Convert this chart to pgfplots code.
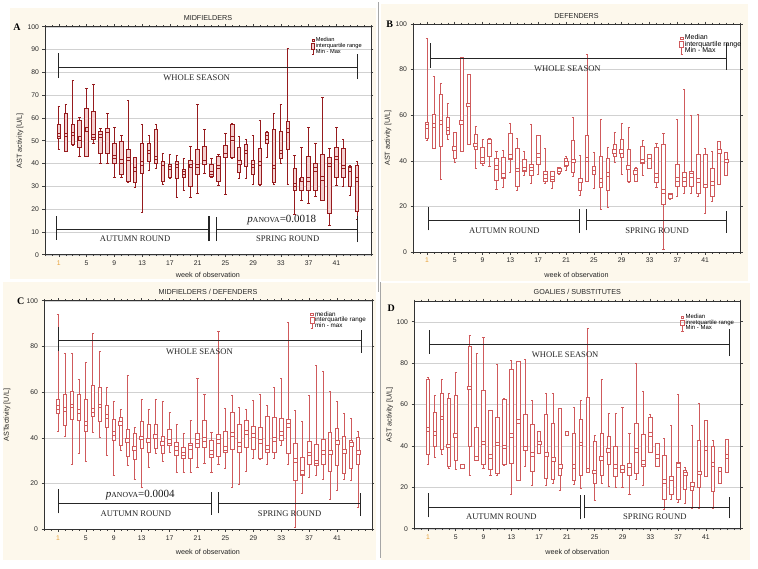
\documentclass[border=0pt]{standalone}
\usepackage{pgfplots}
\pgfplotsset{compat=1.18}
\usepackage{pgfplotstable}
\usepgfplotslibrary{statistics}
\usepackage{fontspec}
\setmainfont{Liberation Sans}
\newfontfamily\serif{Liberation Serif}
\definecolor{darkA}{HTML}{961B1E}
\definecolor{pinkA}{HTML}{F4D0D0}
\definecolor{redB}{HTML}{CF5A5C}
\definecolor{cream}{HTML}{FDF8EC}
\definecolor{tickorange}{HTML}{E8A23C}
\definecolor{brk}{HTML}{262626}

\pgfplotstableread{
w lo q1 md q3 hi
1 46 51 52.5 57 65
2 45.5 45.5 52.5 62 66
3 48 48.5 53 57 76.5
4 43 47 51 59 60
5 43 43 55 64 73
6 49 50.5 52 63 74.5
7 40 44.5 52 54 55.5
8 40 44.5 54.5 55 62
9 34 40 43 49 56
10 34 35 41 49.5 52.5
11 31.5 32 42 46 67.5
12 29.5 31.5 37.5 42.5 42.5
13 18.5 35.5 40 49 57
14 37 41 45 49 52.5
15 38 40 42.5 55 57
16 31 32 40 40.5 44.5
17 33.5 34 38 39.5 44
18 25 33.5 39 41 43.5
19 28 34 36 37.5 42
20 25 30 39 41.5 47.5
21 27 35 39 46 66
22 35.5 40 40.5 47.5 55
23 34 34.5 36 39.5 42
24 30.5 32 38.5 43 44
25 26.5 43 43.5 48 53
26 42 42.5 51 57 57.5
27 33.5 36 40.5 47 52
28 33.5 38.5 45 48.5 50.5
29 31 35 39 41.5 52.5
30 30.5 31 40 46.5 59
31 42.5 49 51.5 53.5 54
32 31 31.5 38.5 55 62
33 40 42 45 54 66
34 31 46 54.5 58.5 90.5
35 17.5 28 30.5 38 43.5
36 24 28 33 33.5 47
37 22.5 28 33 43 56
38 25.5 28 37.5 40 49
39 24 24 33.5 44 69
40 13 18 39.5 42.5 46.5
41 30.5 34 42.5 47 56
42 30 34 38.5 46.5 50.5
43 26 30 37.5 38.5 39
44 15.5 19 33 39 41
}\dataA

\pgfplotstableread{
w lo q1 md q3 hi
1 49 50 55 57 93.5
2 45.5 45.5 55.5 60.5 77
3 32 46.5 57 69 74
4 49.5 51.5 54 59 65
5 39.5 41 45.5 52.5 52.5
6 44 44 57 85.5 85.5
7 47 47 64.5 78 78
8 36.5 45 47 51.5 55
9 38 39 40.5 46 49.5
10 37.5 42 48.5 49.5 50
11 27.5 31.5 37 41 44
12 28.5 32.5 33.5 41.5 44.5
13 35 40.5 42 52 56.5
14 27 29 36 45.5 50
15 33.5 35.5 36.5 40.5 44
16 30 33.5 36.5 38.5 56
17 34 38.5 42.5 51 51
18 30 31 33 35.5 45.5
19 28 31 32.5 35.5 35.5
20 34 34.5 36 37 37
21 36 37.5 39 41 42
22 33 35 40 49 59
23 25 27 31.5 32 42.5
24 31 31 40.5 51 86.5
25 28 34 35 37.5 43.5
26 18.5 28.5 31.5 42 58
27 19.5 27 34 41 46
28 39.5 42 44 47 52.5
29 34 41.5 44 49.5 56.5
30 30.5 31 37 45 54.5
31 31 31 35 36.5 37
32 33.5 39 40 46.5 49
33 36.5 36.5 42 42.5 42.5
34 28.5 30.5 33.5 46 47.5
35 1 21 26.5 47 52
36 23 23.5 24.5 25.5 25.5
37 24.5 29 32 38.5 58
38 25.5 29 32 35 71.5
39 25.5 29 33.5 35.5 60
40 24.5 25.5 31.5 43 60.5
41 17 28.5 29 43 45.5
42 22 24.5 30 36.5 44
43 29.5 29.5 44 48.5 48.5
44 33.5 33.5 40 43.5 43.5
}\dataB

\pgfplotstableread{
w lo q1 md q3 hi
1 43 50.5 53.5 57 94
2 40.5 45.5 52.5 59 77
3 28.5 48 54 60.5 77
4 33 47.5 51.5 59 65.5
5 29.5 43 46.5 57 73
6 42.5 49.5 52 63 85.5
7 40 47 54 62 78
8 32.5 44.5 49.5 54 62
9 23.5 39 42 48 56
10 34.5 36.5 46.5 49 52.5
11 28 32 39 43.5 67.5
12 22 30.5 35.5 42 44.5
13 18.5 35.5 40 47 57
14 27 33.5 39 46 52.5
15 33 35.5 40.5 46 57
16 29.5 33 37.5 40.5 56
17 33.5 36.5 38.5 43.5 51
18 25 32.5 35.5 38 46
19 25 31 33 36 42
20 25 31 36 37.5 47.5
21 27 36 38.5 42 66
22 29 36 39.5 47.5 59
23 25 31.5 33.5 39 42.5
24 28.5 32 38.5 41.5 86.5
25 26.5 33.5 35.5 43 53
26 18.5 35 41.5 51 58.5
27 19.5 33.5 37 46 53.5
28 25.5 36 42.5 47.5 52.5
29 31 35 41 45 56.5
30 30.5 31 38.5 44.5 59
31 28.5 33.5 36 49.5 54
32 31 33.5 39.5 49 62
33 36.5 39 42 48.5 66
34 28.5 33 45.5 48 90.5
35 1 21.5 30 37.5 52
36 15.5 23.5 25 31.5 47
37 22.5 28.5 33 38.5 58.5
38 23.5 28 29.5 37 71.5
39 22 28.5 33.5 39.5 69
40 13 25.5 33.5 42.5 60.5
41 17 28 38 44 56
42 22 24.5 34 40.5 50.5
43 21.5 26.5 37 39 48.5
44 9.5 28.5 33.5 40 43
}\dataC

\pgfplotstableread{
w lo q1 md q3 hi
1 31 36 48 72 73
2 34.5 40 46 56 64.5
3 36 38.5 53.5 65.5 72
4 29 30 40 63 65.5
5 28.5 33 45 64.5 75.5
6 30 30 30 30 30
7 26 40 68 88 93.5
8 33 33.5 34 49 84.5
9 29 31 41.5 67 92.5
10 26 28.5 35 57 57
11 26 26.5 41 54 79.5
12 30.5 31 39.5 62.5 63
13 16.5 31.5 45 77 81.5
14 23.5 23.5 52 81 81
15 30 38 39 55 82
16 21 27.5 36 50.5 62
17 36.5 36.5 41.5 47 47
18 21 24.5 36 55 65.5
19 22 24 33.5 51 65.5
20 18.5 26 30 58 58
21 46 46 46 46 46
22 21.5 23.5 30 46 58.5
23 19.5 26 41 53 62
24 27.5 27.5 28 63.5 97
25 13.5 22 27.5 42 45
26 22 26 34 46 72
27 20.5 31 38 44.5 55.5
28 20 25.5 30 40 55.5
29 20 27 29.5 30.5 58.5
30 16.5 26 30.5 31 46
31 24 26.5 38 51 80
32 21 30 32 45.5 66.5
33 37 37 45.5 54 55
34 30 30 35 41 41
35 9.5 14 23 35.5 43.5
36 14 16.5 24.5 25 50
37 12.5 14 30.5 32 65
38 12 19 26.5 28 29.5
39 10 18.5 21.5 22.5 50
40 10 20 27 42.5 60.5
41 25.5 25.5 39 52.5 52.5
42 10 18 31 40 42.5
43 22 22 28.5 29 29
44 27 27 35 43 43
}\dataD

% one box plot from one row of a table: #1 table, #2 row, #3 style
\newcommand\boxrow[3]{%
  \pgfplotstablegetelem{#2}{lo}\of#1\edef\vlo{\pgfplotsretval}%
  \pgfplotstablegetelem{#2}{q1}\of#1\edef\vqa{\pgfplotsretval}%
  \pgfplotstablegetelem{#2}{md}\of#1\edef\vmd{\pgfplotsretval}%
  \pgfplotstablegetelem{#2}{q3}\of#1\edef\vqb{\pgfplotsretval}%
  \pgfplotstablegetelem{#2}{hi}\of#1\edef\vhi{\pgfplotsretval}%
  \edef\tmpplot{\noexpand\addplot[#3, boxplot prepared={draw position=#2+1,
      lower whisker=\vlo, lower quartile=\vqa, median=\vmd,
      upper quartile=\vqb, upper whisker=\vhi}] coordinates {};}%
  \tmpplot
}

\tikzset{
  brkline/.style={draw=brk, line width=1pt},
  ann/.style={font=\serif\fontsize{8.6}{9}\selectfont, text=black!85},
}

\pgfplotsset{
  panel/.style={
    scale only axis, xmin=-1, xmax=46, ymin=0,
    axis background/.style={fill=white},
    axis line style={draw=black!80, line width=0.6pt},
    xtick={1,5,...,41},
    xticklabels={\textcolor{tickorange}{1},5,9,13,17,21,25,29,33,37,41},
    minor xtick={-1,0,...,46},
    tick align=outside,
    major tick length=2.5pt, minor tick length=1.5pt,
    tick style={black!75, line width=0.5pt},
    ymajorgrids, grid style={black!18, line width=0.4pt},
    ticklabel style={font=\fontsize{6.8}{8}\selectfont, text=black!85},
    /pgf/number format/assume math mode=true,
    label style={font=\fontsize{7.2}{8}\selectfont, text=black!85},
    title style={font=\fontsize{7.2}{8}\selectfont, yshift=-3.5pt, text=black!85},
    legend cell align=left,
    clip=false,
  },
  boxA/.style={forget plot, color=darkA, line width=0.9pt,
    boxplot/draw direction=y, boxplot/box extend=0.5, boxplot/whisker extend=0.35,
    boxplot/every box/.style={fill=pinkA},
    boxplot/draw/median/.code={\draw[darkA, fill=pinkA, line width=0.8pt]
      (boxplot box cs:\pgfplotsboxplotvalue{median},0.5) ++(-1.7pt,-1.7pt) rectangle ++(3.4pt,3.4pt);}},
  boxB/.style={forget plot, color=redB, line width=0.75pt,
    boxplot/draw direction=y, boxplot/box extend=0.5, boxplot/whisker extend=0.3,
    boxplot/every box/.style={fill=white},
    boxplot/draw/median/.code={\draw[redB, fill=white, line width=0.75pt]
      (boxplot box cs:\pgfplotsboxplotvalue{median},0.5) ++(-1.9pt,-1.9pt) rectangle ++(3.8pt,3.8pt);}},
}

\begin{document}
\begin{tikzpicture}
\useasboundingbox (0,0) rectangle (758pt,-568pt);
\fill[white] (0,0) rectangle (758pt,-568pt);
\fill[cream] (10pt,-8pt) rectangle (376pt,-279pt);
\fill[cream] (381pt,-4pt) rectangle (748pt,-281pt);
\fill[cream] (3pt,-282pt) rectangle (376pt,-560pt);
\fill[cream] (381pt,-283pt) rectangle (750pt,-560pt);
\draw[black!35, line width=0.6pt] (378pt,-2pt) -- (378pt,-292pt);
\draw[black!35, line width=0.6pt] (380pt,-282pt) -- (380pt,-558pt);

% ---------------- A ----------------
\begin{axis}[panel, at={(45pt,-254.7pt)}, anchor=south west, width=326pt, height=228pt,
  ymax=100, ytick={0,10,...,100}, title={MIDFIELDERS},
  xlabel={week of observation}, ylabel={AST activity [U/L]},
  xlabel style={at={(axis description cs:0.5,-0.089)}, anchor=center},
  ylabel style={at={(axis description cs:-0.077,0.5)}, anchor=center},
  legend style={at={(0.807,0.965)}, anchor=north west, draw=none, fill=none,
    font=\fontsize{5.7}{6}\selectfont, row sep=-1.5pt, nodes={inner sep=0.8pt}}]
\addlegendimage{legend image code/.code={\draw[darkA, fill=pinkA, line width=0.7pt] (1.3pt,-1.2pt) rectangle (3.7pt,1.2pt);}}
\addlegendentry{Median}
\addlegendimage{legend image code/.code={\draw[darkA, fill=pinkA, line width=0.7pt] (1pt,-2.8pt) rectangle (4pt,2.8pt);}}
\addlegendentry{interquartile range}
\addlegendimage{legend image code/.code={\draw[darkA, line width=0.7pt] (2.5pt,-2.8pt) -- (2.5pt,2.8pt) (1.2pt,-2.8pt) -- (3.8pt,-2.8pt);}}
\addlegendentry{Min - Max}
\pgfplotsinvokeforeach{0,...,43}{\boxrow{\dataA}{#1}{boxA}}
\draw[brkline] (axis cs:0.9,82) -- (axis cs:44.05,82);
\draw[brkline] (axis cs:0.9,77.5) -- (axis cs:0.9,88.5);
\draw[brkline] (axis cs:44.05,77) -- (axis cs:44.05,88);
\draw[brkline] (axis cs:0.71,11) -- (axis cs:22.64,11);
\draw[brkline] (axis cs:0.71,6.5) -- (axis cs:0.71,17);
\draw[brkline, line width=1.6pt] (axis cs:22.64,6) -- (axis cs:22.64,17);
\draw[brkline] (axis cs:23.75,11) -- (axis cs:44.05,11);
\draw[brkline] (axis cs:23.75,6) -- (axis cs:23.75,16.5);
\draw[brkline] (axis cs:44.05,5.5) -- (axis cs:44.05,17);
\node[ann] at (axis cs:20.86,77.7) {WHOLE SEASON};
\node[ann] at (axis cs:12,6.9) {AUTUMN ROUND};
\node[ann] at (axis cs:34,6.9) {SPRING ROUND};
\node[font=\serif\fontsize{11}{12}\selectfont, text=black!90] at (axis cs:33.15,15.1) {\textit{p}{\fontsize{7.7}{8}\selectfont ANOVA}=0.0018};
\end{axis}
\node[font=\serif\bfseries\fontsize{10}{11}\selectfont] at (17pt,-27pt) {A};

% ---------------- B ----------------
\begin{axis}[panel, at={(413pt,-252pt)}, anchor=south west, width=327pt, height=228pt,
  ymax=100, ytick={0,20,...,100}, title={DEFENDERS}, title style={yshift=-1pt},
  xlabel={week of observation}, ylabel={AST activity [U/L]},
  xlabel style={at={(axis description cs:0.5,-0.101)}, anchor=center},
  ylabel style={at={(axis description cs:-0.0765,0.5)}, anchor=center},
  legend style={at={(0.805,0.965)}, anchor=north west, draw=none, fill=none,
    font=\fontsize{7}{7.5}\selectfont, row sep=-1.5pt, nodes={inner sep=0.7pt}}]
\addlegendimage{legend image code/.code={\draw[redB, line width=0.7pt] (1.3pt,-1.3pt) rectangle (3.9pt,1.3pt);}}
\addlegendentry{Median}
\addlegendimage{legend image code/.code={\draw[redB, line width=0.7pt] (0.6pt,-3pt) rectangle (4.6pt,3pt);}}
\addlegendentry{interquartile range}
\addlegendimage{legend image code/.code={\draw[redB, line width=0.7pt] (2.6pt,-2.8pt) -- (2.6pt,2.8pt) (1.4pt,-2.8pt) -- (3.8pt,-2.8pt);}}
\addlegendentry{Min - Max}
\pgfplotsinvokeforeach{0,...,43}{\boxrow{\dataB}{#1}{boxB}}
\draw[brkline] (axis cs:1.48,85) -- (axis cs:44.1,85);
\draw[brkline] (axis cs:1.48,80.9) -- (axis cs:1.48,91.6);
\draw[brkline] (axis cs:44.1,79.9) -- (axis cs:44.1,91.6);
\draw[brkline] (axis cs:1.24,13.9) -- (axis cs:22.96,13.9);
\draw[brkline] (axis cs:1.24,9.5) -- (axis cs:1.24,19.8);
\draw[brkline] (axis cs:22.96,8.5) -- (axis cs:22.96,19);
\draw[brkline] (axis cs:24,13.9) -- (axis cs:44.1,13.9);
\draw[brkline] (axis cs:24,9.5) -- (axis cs:24,19);
\draw[brkline] (axis cs:44.1,8.5) -- (axis cs:44.1,18);
\node[ann] at (axis cs:21.19,80.4) {WHOLE SEASON};
\node[ann] at (axis cs:12.12,9.5) {AUTUMN ROUND};
\node[ann] at (axis cs:34.08,9.5) {SPRING ROUND};
\end{axis}
\node[font=\serif\bfseries\fontsize{10}{11}\selectfont] at (389.7pt,-24pt) {B};

% ---------------- C ----------------
\begin{axis}[panel, at={(44pt,-529.3pt)}, anchor=south west, width=328pt, height=228.6pt,
  ymax=100, ytick={0,20,...,100}, title={MIDFIELDERS / DEFENDERS},
  xlabel={week of observation}, ylabel={ASTactivity [U/L]},
  xlabel style={at={(axis description cs:0.5,-0.098)}, anchor=center},
  ylabel style={at={(axis description cs:-0.113,0.5)}, anchor=center},
  legend style={at={(0.8,0.965)}, anchor=north west, draw=none, fill=none,
    font=\fontsize{6.3}{7}\selectfont, row sep=-1.8pt, nodes={inner sep=0.7pt}}]
\addlegendimage{legend image code/.code={\draw[redB, line width=0.7pt] (1.3pt,-1.2pt) rectangle (3.7pt,1.2pt);}}
\addlegendentry{median}
\addlegendimage{legend image code/.code={\draw[redB, line width=0.7pt] (0.5pt,-2.8pt) rectangle (4.5pt,2.8pt);}}
\addlegendentry{interquartile range}
\addlegendimage{legend image code/.code={\draw[redB, line width=0.7pt] (2.5pt,-2.8pt) -- (2.5pt,2.8pt) (1.3pt,-2.8pt) -- (3.7pt,-2.8pt);}}
\addlegendentry{min - max}
\pgfplotsinvokeforeach{0,...,43}{\boxrow{\dataC}{#1}{boxB}}
\draw[brkline] (axis cs:1.1,82.4) -- (axis cs:44.45,82.4);
\draw[brkline] (axis cs:1.1,78.1) -- (axis cs:1.1,88.6);
\draw[brkline] (axis cs:44.45,77.3) -- (axis cs:44.45,87.2);
\draw[brkline] (axis cs:1.14,11.4) -- (axis cs:22.94,11.4);
\draw[brkline] (axis cs:1.14,7) -- (axis cs:1.14,17.5);
\draw[brkline] (axis cs:22.94,6.3) -- (axis cs:22.94,16.3);
\draw[brkline] (axis cs:24.04,11.4) -- (axis cs:44.36,11.4);
\draw[brkline] (axis cs:24.04,7) -- (axis cs:24.04,16.3);
\draw[brkline] (axis cs:44.36,5.8) -- (axis cs:44.36,15.7);
\node[ann] at (axis cs:21.27,77.7) {WHOLE SEASON};
\node[ann] at (axis cs:12.16,7) {AUTUMN ROUND};
\node[ann] at (axis cs:34.2,7) {SPRING ROUND};
\node[font=\serif\fontsize{11}{12}\selectfont, text=black!90] at (axis cs:12.8,15) {\textit{p}{\fontsize{7.7}{8}\selectfont ANOVA}=0.0004};
\end{axis}
\node[font=\serif\bfseries\fontsize{10}{11}\selectfont] at (20.7pt,-301.7pt) {C};

% ---------------- D ----------------
\begin{axis}[panel, at={(414pt,-528.7pt)}, anchor=south west, width=326.7pt, height=227.7pt,
  ymax=110, ytick={0,20,...,100}, title={GOALIES / SUBSTITUTES},
  xlabel={week of observation}, ylabel={AST activity [U/L]},
  xlabel style={at={(axis description cs:0.5,-0.101)}, anchor=center},
  ylabel style={at={(axis description cs:-0.074,0.5)}, anchor=center},
  legend style={at={(0.805,0.955)}, anchor=north west, draw=none, fill=none,
    font=\fontsize{6}{7}\selectfont, row sep=-1.5pt, nodes={inner sep=0.7pt}}]
\addlegendimage{legend image code/.code={\draw[redB, line width=0.7pt] (1.3pt,-1.2pt) rectangle (3.7pt,1.2pt);}}
\addlegendentry{Median}
\addlegendimage{legend image code/.code={\draw[redB, line width=0.7pt] (0.5pt,-2.8pt) rectangle (4.5pt,2.8pt);}}
\addlegendentry{inretquartile range}
\addlegendimage{legend image code/.code={\draw[redB, line width=0.7pt] (2.5pt,-2.8pt) -- (2.5pt,2.8pt) (1.3pt,-2.8pt) -- (3.7pt,-2.8pt);}}
\addlegendentry{Min - Max}
\pgfplotsinvokeforeach{0,...,43}{\boxrow{\dataD}{#1}{boxB}}
\draw[brkline] (axis cs:1.29,89) -- (axis cs:44.36,89);
\draw[brkline] (axis cs:1.29,84.4) -- (axis cs:1.29,96);
\draw[brkline] (axis cs:44.36,83.4) -- (axis cs:44.36,96.3);
\draw[brkline] (axis cs:1.14,10.3) -- (axis cs:22.99,10.3);
\draw[brkline] (axis cs:1.14,5.5) -- (axis cs:1.14,17.1);
\draw[brkline] (axis cs:22.99,4.5) -- (axis cs:22.99,16.3);
\draw[brkline] (axis cs:23.57,10.3) -- (axis cs:44.36,10.3);
\draw[brkline] (axis cs:23.57,5) -- (axis cs:23.57,16.3);
\draw[brkline] (axis cs:44.36,5) -- (axis cs:44.36,15.1);
\node[ann] at (axis cs:20.74,83.9) {WHOLE SEASON};
\node[ann] at (axis cs:11.56,5.6) {AUTUMN ROUND};
\node[ann] at (axis cs:33.65,5.6) {SPRING ROUND};
\end{axis}
\node[font=\serif\bfseries\fontsize{10}{11}\selectfont] at (391.3pt,-308.3pt) {D};
\end{tikzpicture}
\end{document}
